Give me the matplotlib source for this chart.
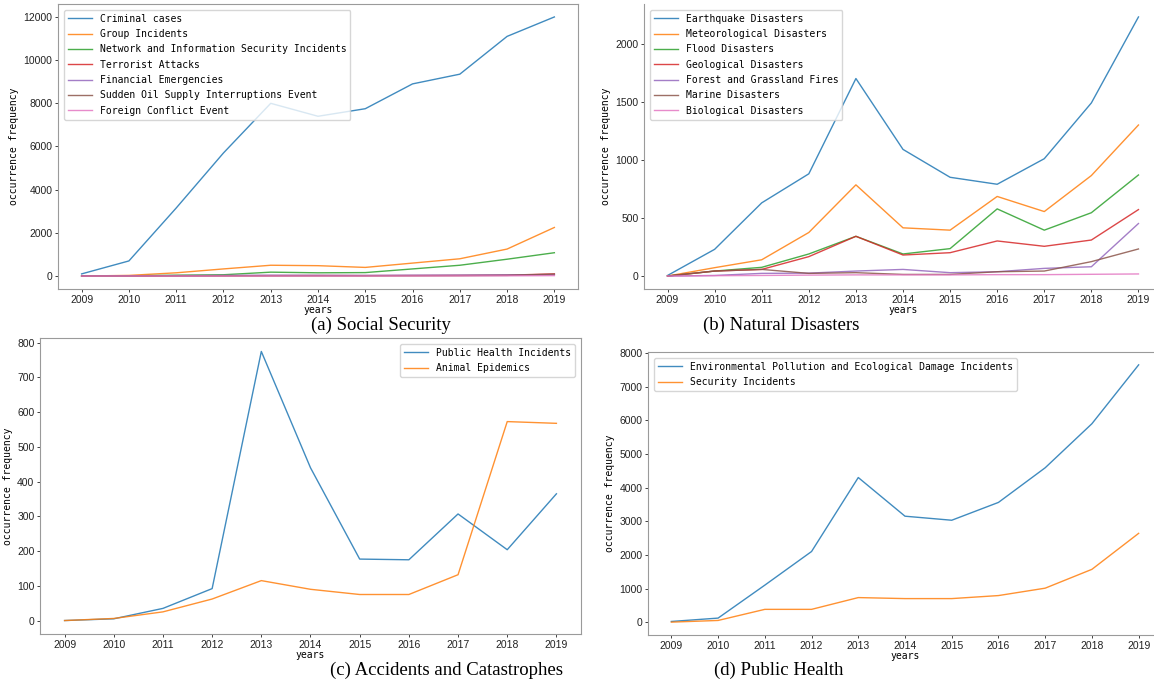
import matplotlib
matplotlib.use('Agg')
import matplotlib.pyplot as plt

years = list(range(2009, 2020))

# (a) Social Security
social_labels = ['Criminal cases', 'Group Incidents', 'Network and Information Security Incidents',
                 'Terrorist Attacks', 'Financial Emergencies', 'Sudden Oil Supply Interruptions Event',
                 'Foreign Conflict Event']
criminal = [100, 700, 3150, 5700, 8000, 7400, 7750, 8900, 9350, 11100, 12000]
group = [0, 30, 150, 330, 500, 480, 400, 600, 800, 1250, 2250]
network = [0, 10, 40, 60, 180, 150, 160, 330, 500, 780, 1080]
terrorist = [2, 5, 10, 15, 20, 25, 20, 25, 30, 40, 100]
financial = [5, 10, 20, 30, 40, 35, 30, 40, 45, 55, 60]
oil = [0, 2, 5, 8, 10, 10, 12, 15, 20, 30, 90]
foreign = [0, 1, 2, 3, 5, 4, 5, 6, 8, 10, 20]

# (b) Natural Disasters
natural_labels = ['Earthquake Disasters', 'Meteorological Disasters', 'Flood Disasters',
                  'Geological Disasters', 'Forest and Grassland Fires', 'Marine Disasters',
                  'Biological Disasters']
earthquake = [5, 230, 630, 880, 1700, 1090, 850, 790, 1010, 1490, 2230]
meteorological = [0, 72, 140, 375, 785, 415, 395, 685, 555, 865, 1300]
flood = [0, 43, 75, 190, 342, 190, 236, 578, 395, 545, 870]
geological = [0, 43, 57, 167, 342, 181, 201, 302, 256, 310, 572]
forest = [0, 5, 23, 25, 43, 57, 29, 37, 66, 80, 452]
marine = [0, 43, 57, 23, 29, 14, 14, 37, 43, 124, 233]
biological = [0, 3, 5, 8, 10, 10, 10, 12, 12, 15, 18]

# (c) Accidents and Catastrophes
accident_labels = ['Public Health Incidents', 'Animal Epidemics']
public_health = [0, 5, 35, 92, 775, 440, 177, 175, 307, 204, 365]
animal = [0, 6, 25, 62, 115, 90, 75, 75, 132, 573, 568]

# (d) Public Health
health_labels = ['Environmental Pollution and Ecological Damage Incidents', 'Security Incidents']
environmental = [20, 120, 1100, 2100, 4300, 3150, 3030, 3560, 4590, 5900, 7650]
security = [0, 50, 380, 380, 730, 700, 700, 790, 1010, 1570, 2640]

W, H = 1154, 683
fig = plt.figure(figsize=(W / 100, H / 100), dpi=100)

mono = 'DejaVu Sans Mono'
tick_font = 'Liberation Sans'
spine_color = '#9a9a9a'


def make_axes(left, top, right, bottom):
    # pixel box -> figure fraction
    return fig.add_axes([left / W, 1 - bottom / H, (right - left) / W, (bottom - top) / H])


def style(ax, series, labels, loc, hide_top=False):
    for vals, lab in zip(series, labels):
        ax.plot(years, vals, label=lab, linewidth=1.0, alpha=0.85)
    ax.set_xticks(years)
    ax.tick_params(length=2.5, width=0.6, pad=1.5, labelsize=7.5, colors='#222222')
    for lbl in ax.get_xticklabels() + ax.get_yticklabels():
        lbl.set_family(tick_font)
    for sp in ax.spines.values():
        sp.set_color(spine_color)
        sp.set_linewidth(0.8)
    if hide_top:
        ax.spines['top'].set_visible(False)
    ax.set_xlabel('years', family=mono, fontsize=7, labelpad=0)
    ax.set_ylabel('occurrence frequency', family=mono, fontsize=7, labelpad=3)
    ax.legend(loc=loc, prop={'family': mono, 'size': 7}, handlelength=2.5,
              labelspacing=0.55, borderpad=0.4, borderaxespad=0.6)


ax_a = make_axes(58, 4, 578, 289)
style(ax_a, [criminal, group, network, terrorist, financial, oil, foreign], social_labels, 'upper left')

ax_b = make_axes(644, 4, 1162, 289)
style(ax_b, [earthquake, meteorological, flood, geological, forest, marine, biological],
      natural_labels, 'upper left', hide_top=True)

ax_c = make_axes(40, 338, 581, 634)
style(ax_c, [public_health, animal], accident_labels, 'upper right')

ax_d = make_axes(648, 352, 1162, 635)
style(ax_d, [environmental, security], health_labels, 'upper left')

captions = [('(a) Social Security', 381, 325), ('(b) Natural Disasters', 781, 325),
            ('(c) Accidents and Catastrophes', 446, 670), ('(d) Public Health', 779, 670)]
for text, x, y in captions:
    fig.text(x / W, 1 - y / H, text, family='Liberation Serif', fontsize=13.5,
             ha='center', va='center')

fig.savefig('out.png', dpi=100)
